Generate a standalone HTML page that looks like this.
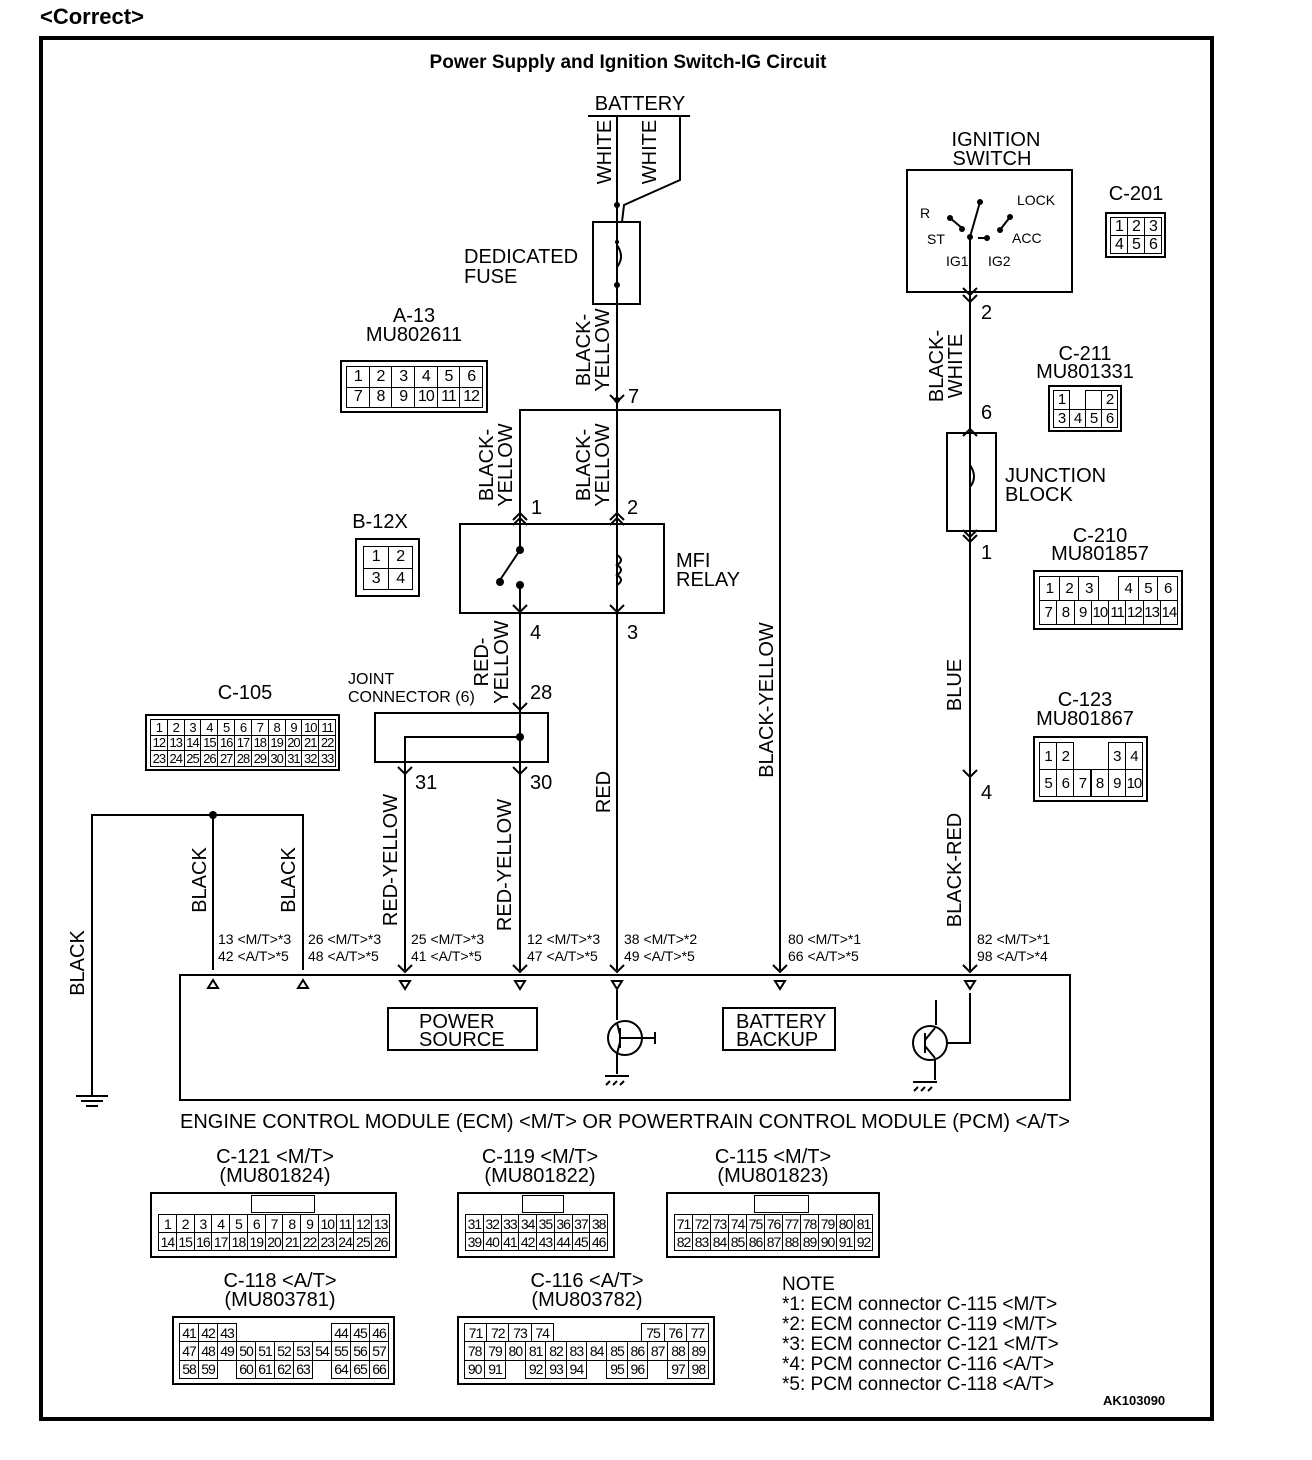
<!DOCTYPE html>
<html><head><meta charset="utf-8">
<style>
html,body{margin:0;padding:0;background:#fff;}
#w{position:relative;width:1312px;height:1460px;overflow:hidden;font-family:"Liberation Sans",Arial,sans-serif;color:#000;}
svg{position:absolute;left:0;top:0;}
.c{position:absolute;border:2px solid #000;box-sizing:border-box;background:#fff;}
.cell{position:absolute;border:1px solid #000;box-sizing:border-box;font-size:14px;line-height:1;display:flex;align-items:center;justify-content:center;letter-spacing:-1px;overflow:hidden;}
</style></head><body><div id="w">
<svg width="1312" height="1460" viewBox="0 0 1312 1460" font-family="Liberation Sans, Arial, sans-serif">
<g fill="none" stroke="#000" stroke-width="2">
<rect x="41" y="38" width="1171" height="1381" stroke-width="4"/>
<line x1="588" y1="116" x2="690" y2="116"/>
<line x1="617" y1="116" x2="617" y2="970"/>
<polyline points="680,116 680,180 624,205 622,222"/>
<rect x="593" y="222" width="47" height="82"/>
<path d="M617,245 q8,12 0,22" />
<polyline points="520,520 520,410 780,410 780,970"/>
<rect x="460" y="524" width="204" height="89"/>
<line x1="520" y1="410" x2="520" y2="550"/>
<line x1="520" y1="550" x2="500" y2="580"/>
<line x1="520" y1="585" x2="520" y2="970"/>
<path d="M617,555 q8,5 0,10 q8,5 0,10 q8,5 0,10" />
<rect x="375" y="713" width="173" height="49"/>
<polyline points="520,737 405,737 405,970"/>
<polyline points="92,1095 92,815 303,815 303,970"/>
<line x1="213" y1="815" x2="213" y2="970"/>
<line x1="76" y1="1096" x2="108" y2="1096"/><line x1="81" y1="1101" x2="103" y2="1101"/><line x1="86" y1="1106" x2="98" y2="1106"/>
<rect x="180" y="975" width="890" height="125"/>
<rect x="388" y="1008" width="149" height="42"/>
<rect x="723" y="1008" width="112" height="42"/>
<circle cx="625" cy="1038" r="17"/>
<circle cx="930" cy="1043" r="17"/>
<path d="M617,990 v30 M620,1028 v20 M620,1035 l-3,-12 M620,1042 l-3,12 M617,1054 v20 M620,1038 h35 M655,1032 v12"/>
<path d="M936,1000 v25 M925,1033 v20 M925,1040 l10,-12 M925,1046 l10,12 M935,1060 v20 M946,1043 h24 v-50"/>
<path d="M605,1076 h24 M610,1081 l-4,4 M617,1081 l-4,4 M624,1081 l-4,4"/>
<path d="M913,1082 h24 M918,1087 l-4,4 M925,1087 l-4,4 M932,1087 l-4,4"/>
<rect x="907" y="170" width="165" height="122"/>
<line x1="970" y1="237" x2="970" y2="970"/>
<line x1="970" y1="237" x2="980" y2="202"/>
<line x1="950" y1="218" x2="962" y2="228"/>
<line x1="978" y1="238" x2="985" y2="238"/>
<line x1="1000" y1="230" x2="1010" y2="217"/>
<rect x="947" y="433" width="49" height="98"/>
<path d="M970,465 q8,12 0,22" />
</g>
<g fill="#000">
<circle cx="617" cy="400" r="3"/><circle cx="213" cy="815" r="4"/><circle cx="520" cy="737" r="4"/>
<circle cx="520" cy="550" r="4"/><circle cx="500" cy="582" r="4"/><circle cx="520" cy="585" r="4"/>
<circle cx="617" cy="205" r="3"/><circle cx="617" cy="285" r="3"/><circle cx="617" cy="242" r="2"/>
<circle cx="970" cy="237" r="3"/><circle cx="980" cy="202" r="3"/><circle cx="950" cy="218" r="3"/><circle cx="962" cy="229" r="3"/><circle cx="987" cy="238" r="3"/><circle cx="1000" cy="230" r="3"/><circle cx="1010" cy="217" r="3"/>
</g>
<g fill="none" stroke="#000" stroke-width="2">
<path d="M513,525 l7,-7 l7,7 M610,525 l7,-7 l7,7 M513,605 l7,7 l7,-7 M610,605 l7,7 l7,-7 M513,703 l7,7 l7,-7 M398,767 l7,7 l7,-7 M513,767 l7,7 l7,-7 M963,295 l7,7 l7,-7 M963,436 l7,-7 l7,7 M963,535 l7,7 l7,-7 M963,770 l7,7 l7,-7 M610,395 l7,7 l7,-7 M513,520 l7,-7 l7,7 M610,520 l7,-7 l7,7 M963,288 l7,7 l7,-7 M963,530 l7,7 l7,-7"/>
<path d="M208,988 l5,-8 l5,8 z M298,988 l5,-8 l5,8 z M400,981 l5,8 l5,-8 z M515,981 l5,8 l5,-8 z M612,981 l5,8 l5,-8 z M775,981 l5,8 l5,-8 z M965,981 l5,8 l5,-8 z"/>
<path d="M963,965 l7,7 l7,-7 M773,965 l7,7 l7,-7 M398,965 l7,7 l7,-7 M513,965 l7,7 l7,-7 M610,965 l7,7 l7,-7"/>
</g>
<g font-size="20" fill="#000">
<text x="40" y="24" font-size="22" font-weight="bold">&lt;Correct&gt;</text>
<text x="628" y="68" font-size="19" font-weight="bold" text-anchor="middle">Power Supply and Ignition Switch-IG Circuit</text>
<text x="640" y="110" text-anchor="middle">BATTERY</text>
<text transform="translate(611,152) rotate(-90)" text-anchor="middle">WHITE</text>
<text transform="translate(656,152) rotate(-90)" text-anchor="middle">WHITE</text>
<text x="464" y="263">DEDICATED</text><text x="464" y="283">FUSE</text>
<text transform="translate(590,350) rotate(-90)" text-anchor="middle">BLACK-</text>
<text transform="translate(609,350) rotate(-90)" text-anchor="middle">YELLOW</text>
<text x="628" y="403">7</text>
<text transform="translate(493,465) rotate(-90)" text-anchor="middle">BLACK-</text>
<text transform="translate(512,465) rotate(-90)" text-anchor="middle">YELLOW</text>
<text transform="translate(590,465) rotate(-90)" text-anchor="middle">BLACK-</text>
<text transform="translate(609,465) rotate(-90)" text-anchor="middle">YELLOW</text>
<text x="531" y="514">1</text><text x="627" y="514">2</text>
<text x="676" y="567">MFI</text><text x="676" y="586">RELAY</text>
<text x="530" y="639">4</text><text x="627" y="639">3</text>
<text transform="translate(488,662) rotate(-90)" text-anchor="middle">RED-</text>
<text transform="translate(508,662) rotate(-90)" text-anchor="middle">YELLOW</text>
<text x="530" y="699">28</text>
<text x="348" y="684" font-size="16">JOINT</text><text x="348" y="702" font-size="16">CONNECTOR (6)</text>
<text x="415" y="789">31</text><text x="530" y="789">30</text>
<text transform="translate(397,860) rotate(-90)" text-anchor="middle">RED-YELLOW</text>
<text transform="translate(511,865) rotate(-90)" text-anchor="middle">RED-YELLOW</text>
<text transform="translate(610,792) rotate(-90)" text-anchor="middle">RED</text>
<text transform="translate(773,700) rotate(-90)" text-anchor="middle">BLACK-YELLOW</text>
<text transform="translate(206,880) rotate(-90)" text-anchor="middle">BLACK</text>
<text transform="translate(295,880) rotate(-90)" text-anchor="middle">BLACK</text>
<text transform="translate(84,963) rotate(-90)" text-anchor="middle">BLACK</text>
<text x="996" y="146" text-anchor="middle">IGNITION</text><text x="992" y="165" text-anchor="middle">SWITCH</text>
<text x="981" y="319">2</text><text x="981" y="419">6</text><text x="981" y="559">1</text><text x="981" y="799">4</text>
<text transform="translate(943,366) rotate(-90)" text-anchor="middle">BLACK-</text>
<text transform="translate(962,366) rotate(-90)" text-anchor="middle">WHITE</text>
<text x="1005" y="482">JUNCTION</text><text x="1005" y="501">BLOCK</text>
<text transform="translate(961,685) rotate(-90)" text-anchor="middle">BLUE</text>
<text transform="translate(961,870) rotate(-90)" text-anchor="middle">BLACK-RED</text>
<text x="1136" y="200" text-anchor="middle">C-201</text>
<text x="1085" y="360" text-anchor="middle">C-211</text><text x="1085" y="378" text-anchor="middle">MU801331</text>
<text x="1100" y="542" text-anchor="middle">C-210</text><text x="1100" y="560" text-anchor="middle">MU801857</text>
<text x="1085" y="706" text-anchor="middle">C-123</text><text x="1085" y="725" text-anchor="middle">MU801867</text>
<text x="414" y="322" text-anchor="middle">A-13</text><text x="414" y="341" text-anchor="middle">MU802611</text>
<text x="380" y="528" text-anchor="middle">B-12X</text>
<text x="245" y="699" text-anchor="middle">C-105</text>
<text x="419" y="1028">POWER</text><text x="419" y="1046">SOURCE</text>
<text x="736" y="1028">BATTERY</text><text x="736" y="1046">BACKUP</text>
<text x="180" y="1128" textLength="890" lengthAdjust="spacingAndGlyphs">ENGINE CONTROL MODULE (ECM) &lt;M/T&gt; OR POWERTRAIN CONTROL MODULE (PCM) &lt;A/T&gt;</text>
<text x="275" y="1163" text-anchor="middle">C-121 &lt;M/T&gt;</text><text x="275" y="1182" text-anchor="middle">(MU801824)</text>
<text x="540" y="1163" text-anchor="middle">C-119 &lt;M/T&gt;</text><text x="540" y="1182" text-anchor="middle">(MU801822)</text>
<text x="773" y="1163" text-anchor="middle">C-115 &lt;M/T&gt;</text><text x="773" y="1182" text-anchor="middle">(MU801823)</text>
<text x="280" y="1287" text-anchor="middle">C-118 &lt;A/T&gt;</text><text x="280" y="1306" text-anchor="middle">(MU803781)</text>
<text x="587" y="1287" text-anchor="middle">C-116 &lt;A/T&gt;</text><text x="587" y="1306" text-anchor="middle">(MU803782)</text>
<g font-size="19"><text x="782" y="1290">NOTE</text>
<text x="782" y="1310">*1: ECM connector C-115 &lt;M/T&gt;</text>
<text x="782" y="1330">*2: ECM connector C-119 &lt;M/T&gt;</text>
<text x="782" y="1350">*3: ECM connector C-121 &lt;M/T&gt;</text>
<text x="782" y="1370">*4: PCM connector C-116 &lt;A/T&gt;</text>
<text x="782" y="1390">*5: PCM connector C-118 &lt;A/T&gt;</text></g>
<text x="1103" y="1405" font-size="13" font-weight="bold">AK103090</text>
</g>
<g font-size="14" fill="#000">
<text x="920" y="218">R</text><text x="927" y="244">ST</text><text x="946" y="266">IG1</text><text x="988" y="266">IG2</text><text x="1017" y="205">LOCK</text><text x="1012" y="243">ACC</text>
</g>
<g font-size="14" fill="#000">
<text x="218" y="944">13 &lt;M/T&gt;*3</text><text x="218" y="961">42 &lt;A/T&gt;*5</text>
<text x="308" y="944">26 &lt;M/T&gt;*3</text><text x="308" y="961">48 &lt;A/T&gt;*5</text>
<text x="411" y="944">25 &lt;M/T&gt;*3</text><text x="411" y="961">41 &lt;A/T&gt;*5</text>
<text x="527" y="944">12 &lt;M/T&gt;*3</text><text x="527" y="961">47 &lt;A/T&gt;*5</text>
<text x="624" y="944">38 &lt;M/T&gt;*2</text><text x="624" y="961">49 &lt;A/T&gt;*5</text>
<text x="788" y="944">80 &lt;M/T&gt;*1</text><text x="788" y="961">66 &lt;A/T&gt;*5</text>
<text x="977" y="944">82 &lt;M/T&gt;*1</text><text x="977" y="961">98 &lt;A/T&gt;*4</text>
</g>
</svg>
<div id="conns"></div>
</div>
<script>
function conn(x,y,w,h,rows,pad,bump,fs){
  var d=document.createElement('div');d.className='c';
  d.style.cssText='left:'+x+'px;top:'+y+'px;width:'+w+'px;height:'+h+'px;';
  var p=pad||5, top=bump?bump:p;
  var rh=(h-top-p-4)/rows.length;
  rows.forEach(function(r,i){
    var cw=(w-2*p-4)/r.length;
    r.forEach(function(t,j){
      if(t===null) return;
      var c=document.createElement('div');c.className='cell';
      c.style.cssText='left:'+(p+j*cw)+'px;top:'+(top+i*rh)+'px;width:'+(cw+1)+'px;height:'+(rh+1)+'px;'+(fs?'font-size:'+fs+'px;':'');
      c.textContent=t;d.appendChild(c);
    });
  });
  if(bump){var b=document.createElement('div');b.style.cssText='position:absolute;border:1px solid #000;left:'+(w*0.4)+'px;top:1px;width:'+(w*0.25)+'px;height:'+(bump-4)+'px;';d.appendChild(b);}
  document.getElementById('conns').appendChild(d);
}
function rng(a,b){var r=[];for(var i=a;i<=b;i++)r.push(''+i);return r;}
conn(1105,212,61,46,[['1','2','3'],['4','5','6']],3,0,16);
conn(1048,385,74,47,[['1',null,'','2'],['3','4','5','6']],3,0,15);
conn(1033,570,150,60,[['1','2','3',null,'4','5','6'],rng(7,14)],4,0,15);
conn(1033,736,115,66,[['1','2',null,null,'3','4'],rng(5,10)],4,0,15);
conn(340,360,148,53,[rng(1,6),rng(7,12)],4,0,16);
conn(355,538,65,59,[['1','2'],['3','4']],6,0,16);
conn(145,714,195,57,[rng(1,11),rng(12,22),rng(23,33)],3,0,13);
conn(150,1192,247,66,[rng(1,13),rng(14,26)],6,20);
conn(457,1192,158,66,[rng(31,38),rng(39,46)],6,20);
conn(666,1192,214,66,[rng(71,81),rng(82,92)],6,20);
conn(172,1316,223,69,[['41','42','43',null,null,null,null,null,'44','45','46'],rng(47,57),['58','59',null,'60','61','62','63',null,'64','65','66']],5);
conn(457,1316,258,69,[['71','72','73','74',null,null,null,null,'75','76','77'],rng(78,89),['90','91',null,'92','93','94',null,'95','96',null,'97','98']],5);
</script>
</body></html>
